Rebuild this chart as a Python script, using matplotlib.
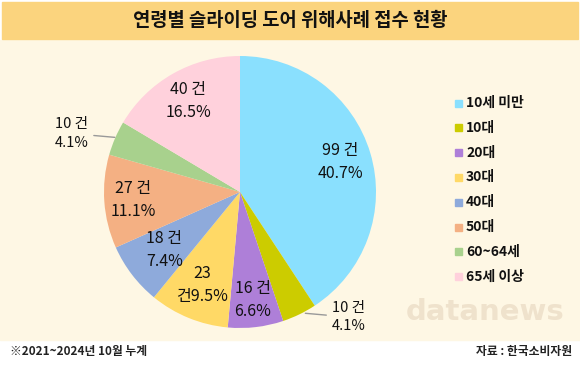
import numpy as np
import matplotlib.pyplot as plt
from matplotlib.patches import Rectangle

plt.rcParams['font.family'] = ['Noto Sans CJK KR', 'DejaVu Sans']

categories = ['10세 미만', '10대', '20대', '30대', '40대', '50대', '60~64세', '65세 이상']
counts = [99, 10, 16, 23, 18, 27, 10, 40]
pcts = ['40.7%', '4.1%', '6.6%', '9.5%', '7.4%', '11.1%', '4.1%', '16.5%']
colors = ['#8ae0fe', '#cccc00', '#ae7fd8', '#ffd966', '#8eaadb', '#f4b083', '#a8d18d', '#ffd1dc']

W, H = 580, 368
fig = plt.figure(figsize=(W / 100, H / 100), dpi=100)
fig.patch.set_facecolor('white')

# background panels
bg = fig.add_axes([0, 0, 1, 1])
bg.set_xlim(0, W)
bg.set_ylim(H, 0)
bg.axis('off')
bg.add_patch(Rectangle((0, 40), W, 300, color='#fef7e4', zorder=0))
bg.add_patch(Rectangle((2, 2), W - 4, 37, color='#fbd47e', zorder=1))
bg.text(W / 2, 20, '연령별 슬라이딩 도어 위해사례 접수 현황', ha='center', va='center',
        fontsize=13.5, fontweight='bold', color='#111111')
bg.text(10, 352, '※2021~2024년 10월 누계', ha='left', va='center', fontsize=8.5,
        fontweight='bold', color='#222222')
bg.text(572, 352, '자료 : 한국소비자원', ha='right', va='center', fontsize=8.5,
        fontweight='bold', color='#222222')

# faint watermark
bg.text(485, 320, 'datanews', ha='center', va='baseline', fontsize=21,
        fontweight='bold', color='#efe2cc', family='DejaVu Sans')

# pie
cx, cy, r = 240, 192, 136
ax = fig.add_axes([(cx - r) / W, (H - cy - r) / H, 2 * r / W, 2 * r / H])
ax.set_facecolor('none')
wedges, _ = ax.pie(counts, colors=colors, startangle=90, counterclock=False,
                   radius=1, wedgeprops=dict(linewidth=0))
ax.set_xlim(-1, 1)
ax.set_ylim(-1, 1)
ax.set_aspect('auto')

inside_r = [0.77, None, 0.8, 0.74, 0.7, 0.79, None, 0.77]
for i, w in enumerate(wedges):
    ang = np.deg2rad((w.theta1 + w.theta2) / 2)
    if inside_r[i] is not None:
        rr = inside_r[i]
        if i == 3:
            txt = f'{counts[i]}\n건{pcts[i]}'
        else:
            txt = f'{counts[i]} 건\n{pcts[i]}'
        ax.text(rr * np.cos(ang), rr * np.sin(ang), txt, ha='center', va='center',
                fontsize=11.5, linespacing=1.45, color='#111111')

# outside labels for the two small slices
ax.annotate(f'{counts[1]} 건\n{pcts[1]}', xy=(0.46, -0.89), xytext=(0.8, -0.92),
            ha='center', va='center', fontsize=10.5, linespacing=1.4, color='#111111',
            arrowprops=dict(arrowstyle='-', color='#999999', lw=1))
ax.annotate(f'{counts[6]} 건\n{pcts[6]}', xy=(-0.9, 0.4), xytext=(-1.24, 0.43),
            ha='center', va='center', fontsize=10.5, linespacing=1.4, color='#111111',
            arrowprops=dict(arrowstyle='-', color='#999999', lw=1), annotation_clip=False)

# legend
for i, (c, lab) in enumerate(zip(colors, categories)):
    y = 103 + i * 24.8
    bg.add_patch(Rectangle((455, y - 3.5), 7, 7, color=c, zorder=2))
    bg.text(466, y, lab, ha='left', va='center', fontsize=10, fontweight='bold',
            color='#111111')

fig.savefig('out.png', dpi=100)
